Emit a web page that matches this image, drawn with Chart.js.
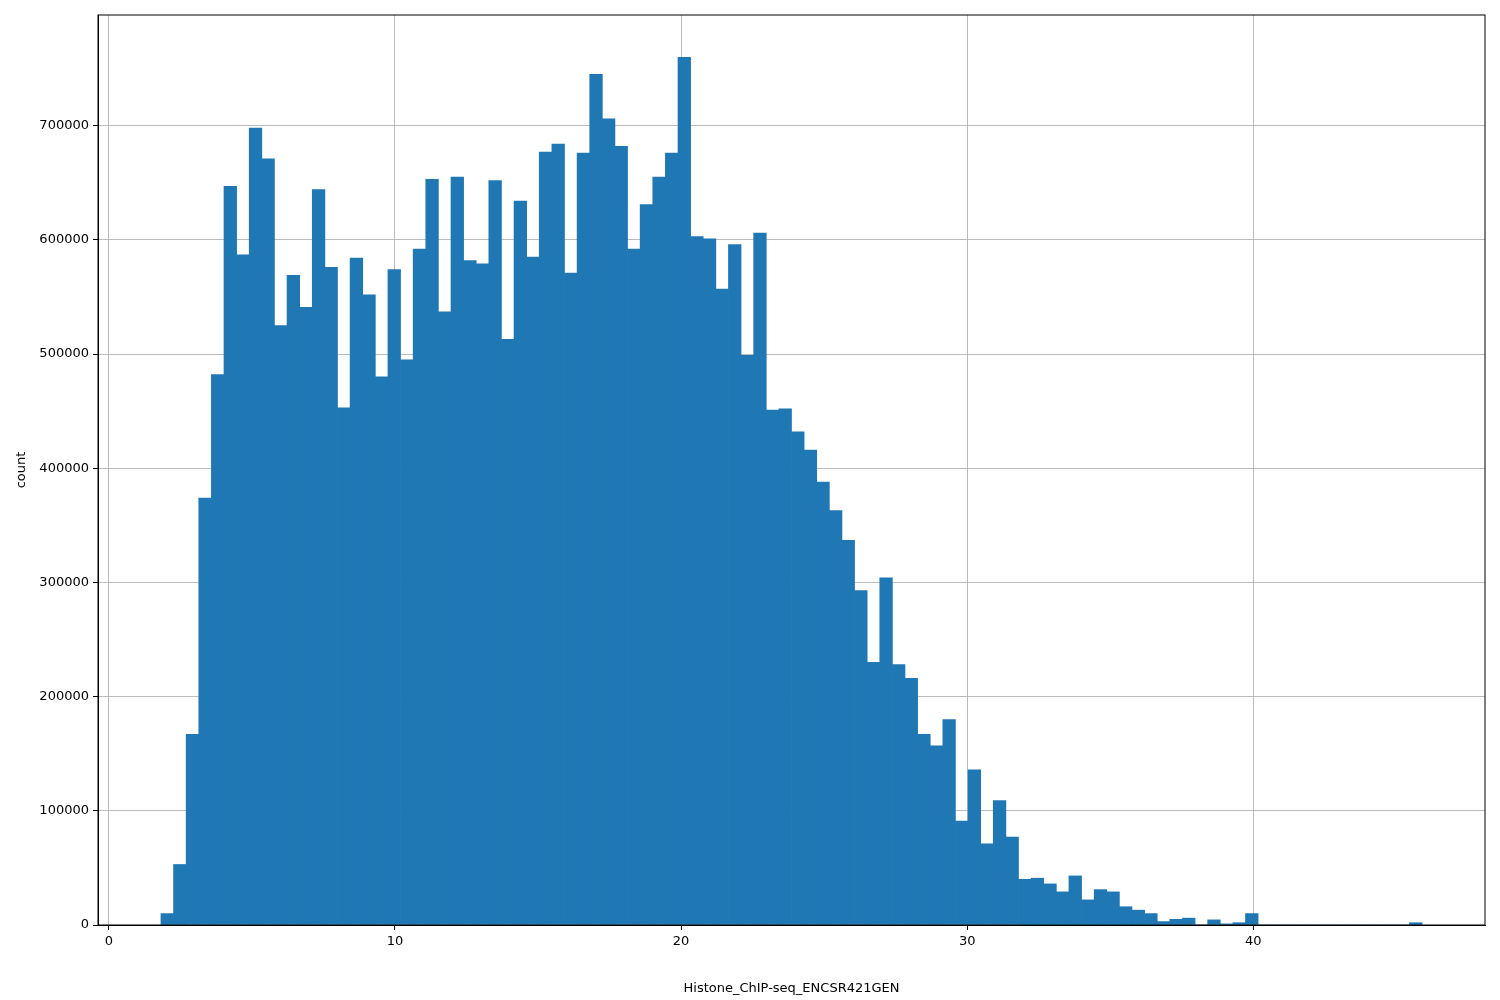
<!DOCTYPE html>
<html>
<head>
<meta charset="utf-8">
<script src="https://cdn.jsdelivr.net/npm/chart.js@4"></script>
<style>
  body { margin: 0; background: #fff; }
  #wrap { width: 1500px; height: 1000px; }
</style>
</head>
<body>
<div id="wrap"><canvas id="hist" width="1500" height="1000"></canvas></div>
<script>
// histogram: 100 bins from binStart, width binWidth
var binStart = 1.82;
var binWidth = 0.4408;
var counts = [
  10000, 53000, 167000, 374000, 482000, 647000, 587000, 698000, 671000, 525000,
  569000, 541000, 644000, 576000, 453000, 584000, 552000, 480000, 574000, 495000,
  592000, 653000, 537000, 655000, 582000, 579000, 652000, 513000, 634000, 585000,
  677000, 684000, 571000, 676000, 745000, 706000, 682000, 592000, 631000, 655000,
  676000, 760000, 603000, 601000, 557000, 596000, 499000, 606000, 451000, 452000,
  432000, 416000, 388000, 363000, 337000, 293000, 230000, 304000, 228000, 216000,
  167000, 157000, 180000, 91000, 136000, 71000, 109000, 77000, 40000, 41000,
  36000, 29000, 43000, 22000, 31000, 29000, 16000, 13000, 10000, 3000,
  5000, 6000, 0, 4500, 1000, 2000, 10000, 0, 0, 0,
  0, 0, 0, 0, 0, 0, 0, 0, 0, 2000
];
var xTicks = [0, 10, 20, 30, 40];
var yTicks = [0, 100000, 200000, 300000, 400000, 500000, 600000, 700000];

var points = counts.map(function(c, i) {
  return { x: binStart + binWidth * (i + 0.5), y: c };
});

var gridColor = 'rgba(176,176,176,0.85)';
var tickFont = { family: 'DejaVu Sans', size: 13 };

new Chart(document.getElementById('hist').getContext('2d'), {
  type: 'bar',
  data: {
    datasets: [{
      data: points,
      backgroundColor: '#1f77b4',
      barPercentage: 1.0,
      categoryPercentage: 1.0,
      borderWidth: 0
    }]
  },
  options: {
    responsive: false,
    animation: false,
    layout: { padding: { top: 15, right: 15, left: 10, bottom: 0 } },
    plugins: { legend: { display: false }, tooltip: { enabled: false } },
    scales: {
      x: {
        type: 'linear',
        min: -0.38,
        max: 48.1,
        offset: false,
        z: 1,
        afterBuildTicks: function(s) { s.ticks = xTicks.map(function(v) { return { value: v }; }); },
        afterFit: function(s) { s.height = 75; },
        grid: { color: gridColor, tickColor: '#000', tickLength: 5, offset: false },
        border: { color: '#000' },
        ticks: { color: '#000', font: tickFont, maxRotation: 0, padding: 4 },
        title: { display: true, text: 'Histone_ChIP-seq_ENCSR421GEN', color: '#000', font: tickFont, padding: { top: 12 } }
      },
      y: {
        min: 0,
        max: 797000,
        z: 1,
        afterBuildTicks: function(s) { s.ticks = yTicks.map(function(v) { return { value: v }; }); },
        afterFit: function(s) { s.width = 88; },
        grid: { color: gridColor, tickColor: '#000', tickLength: 5 },
        border: { color: '#000' },
        ticks: { color: '#000', font: tickFont, padding: 4, callback: function(v) { return String(v); } },
        title: { display: true, text: 'count', color: '#000', font: tickFont, padding: { bottom: 0 } }
      }
    }
  },
  plugins: [{
    id: 'frame',
    afterDraw: function(chart) {
      var a = chart.chartArea, c = chart.ctx;
      c.save();
      c.strokeStyle = '#000';
      c.lineWidth = 1;
      c.strokeRect(a.left, a.top, a.right - a.left, a.bottom - a.top);
      c.restore();
    }
  }]
});
</script>
</body>
</html>
